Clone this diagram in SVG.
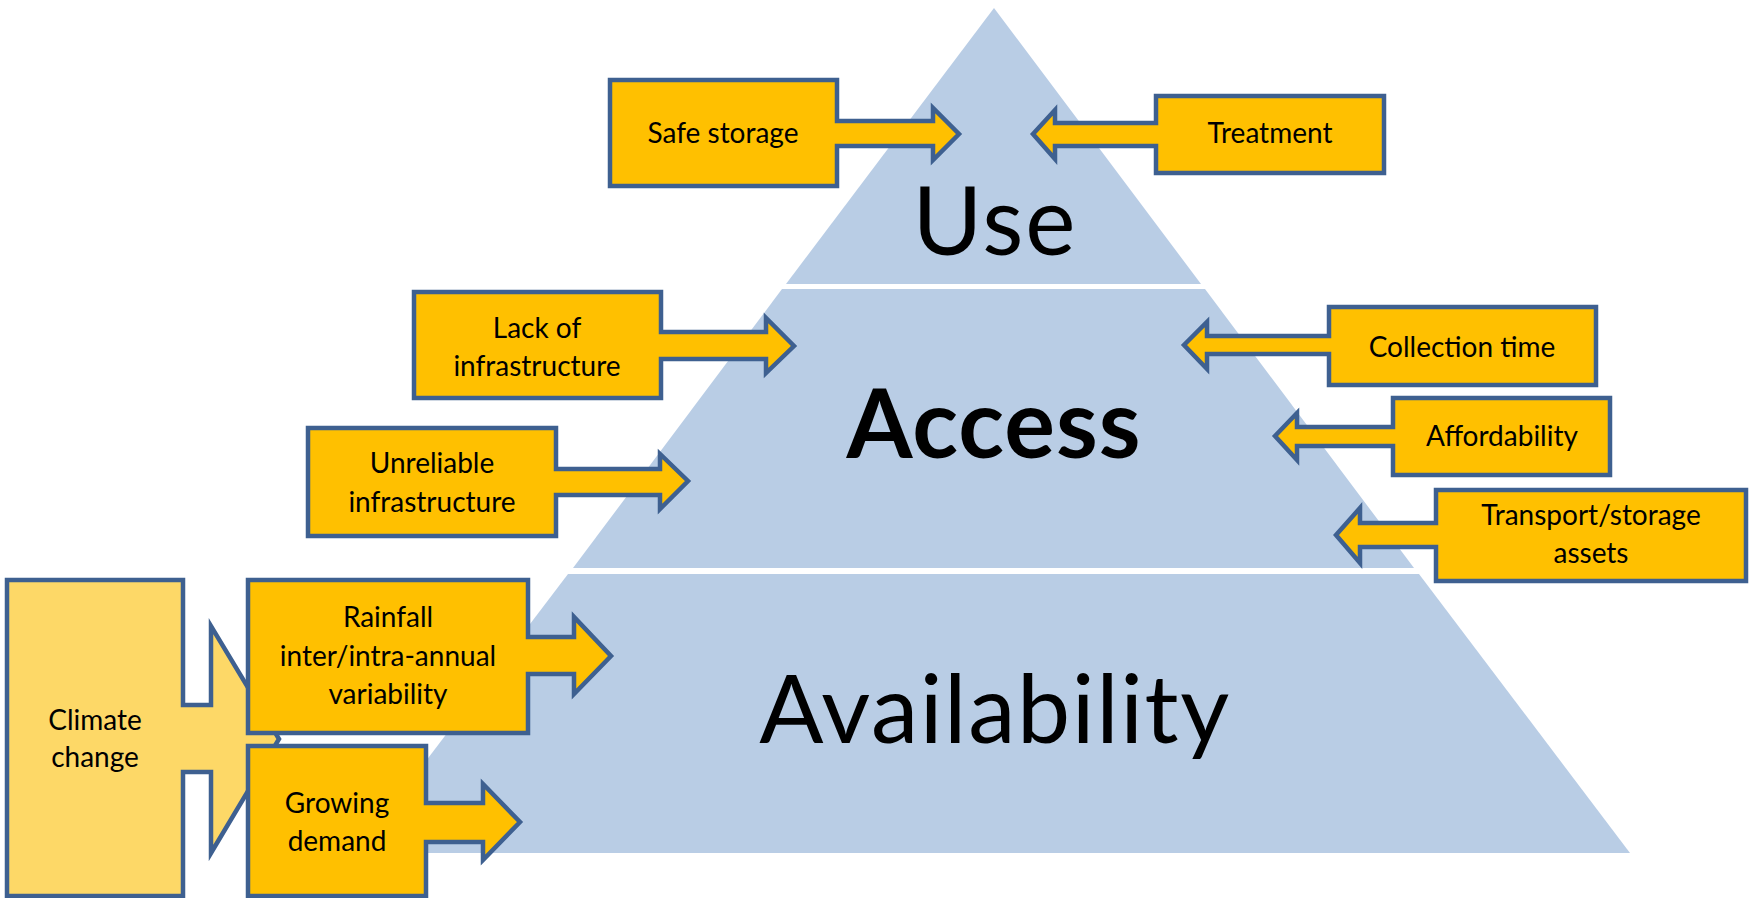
<svg xmlns="http://www.w3.org/2000/svg" width="1750" height="898" viewBox="0 0 1750 898">
<style>
.band{fill:#B9CDE5}
.box{fill:#FFC000;stroke:#3E6090;stroke-width:4.5;stroke-linejoin:miter}
.cc{fill:#FDD867;stroke:#3E6090;stroke-width:4.5}
.t{font-family:Lato,"Open Sans",sans-serif;font-size:28px;fill:#000;text-anchor:middle}
.big{font-family:Lato,"Open Sans",sans-serif;font-size:95px;fill:#000;text-anchor:middle}
</style>
<rect width="1750" height="898" fill="#fff"/>
<g id="pyramid">
<polygon class="band" points="994,8 1201,284 786,284"/>
<polygon class="band" points="782,289 1205,289 1414,568 573,568"/>
<polygon class="band" points="568,574 1419,574 1630,853 356,853"/>
<text class="big" x="995" y="255" letter-spacing="2">Use</text>
<text class="big" x="994" y="458" font-weight="bold" letter-spacing="1">Access</text>
<text class="big" x="995" y="743" letter-spacing="1.6">Availability</text>
</g>
<g id="connectors"></g>
<g id="climate-change">
<path class="cc" d="M7,580 H183 V705 H211 V626 L279,739 L211,853 V772 H183 V896 H7 Z"/>
<text class="t" x="95" y="730">Climate</text>
<text class="t" x="95" y="767">change</text>
</g>
<g id="rainfall">
<path class="box" d="M248,580 H528 V637 H574 V617 L611,656 L574,694 V674 H528 V733 H248 Z"/>
<text class="t" x="388" y="627">Rainfall</text>
<text class="t" x="388" y="666">inter/intra-annual</text>
<text class="t" x="388" y="704">variability</text>
</g>
<g id="growing-demand">
<path class="box" d="M248,746 H426 V803 H483 V784 L520,822 L483,860 V842 H426 V896 H248 Z"/>
<text class="t" x="337" y="813">Growing</text>
<text class="t" x="337" y="851">demand</text>
</g>
<g id="safe-storage">
<path class="box" d="M610,80 H837 V121 H933 V108 L959,134 L933,160 V146 H837 V186 H610 Z"/>
<text class="t" x="723" y="143">Safe storage</text>
</g>
<g id="treatment">
<path class="box" d="M1156,96 H1384 V173 H1156 V146 H1055 V159 L1033,134 L1055,110 V123 H1156 Z"/>
<text class="t" x="1270" y="143">Treatment</text>
</g>
<g id="lack-of-infrastructure">
<path class="box" d="M414,292 H661 V332 H766 V318 L794,346 L766,373 V359 H661 V398 H414 Z"/>
<text class="t" x="537" y="338">Lack of</text>
<text class="t" x="537" y="376">infrastructure</text>
</g>
<g id="unreliable-infrastructure">
<path class="box" d="M308,428 H556 V469 H660 V454 L688,481 L660,509 V495 H556 V536 H308 Z"/>
<text class="t" x="432" y="473">Unreliable</text>
<text class="t" x="432" y="512">infrastructure</text>
</g>
<g id="collection-time">
<path class="box" d="M1329,307 H1596 V385 H1329 V354 H1207 V369 L1184,345 L1207,322 V336 H1329 Z"/>
<text class="t" x="1462" y="357">Collection time</text>
</g>
<g id="affordability">
<path class="box" d="M1393,398 H1610 V475 H1393 V446 H1297 V460 L1275,436 L1297,413 V427 H1393 Z"/>
<text class="t" x="1502" y="446">Affordability</text>
</g>
<g id="transport-storage-assets">
<path class="box" d="M1436,490 H1746 V581 H1436 V547 H1360 V563 L1336,535 L1360,508 V523 H1436 Z"/>
<text class="t" x="1591" y="525">Transport/storage</text>
<text class="t" x="1591" y="563">assets</text>
</g>
</svg>
